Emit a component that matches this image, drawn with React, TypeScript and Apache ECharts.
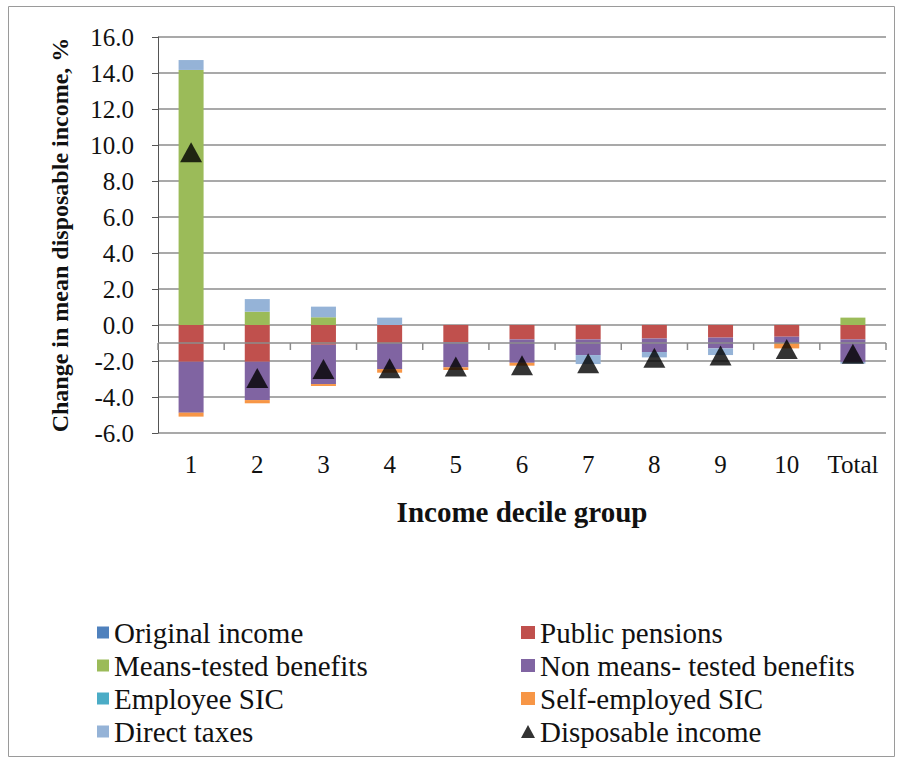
import React, { useEffect, useRef } from "react";
import * as echarts from "echarts";

const categories = ["1", "2", "3", "4", "5", "6", "7", "8", "9", "10", "Total"];

const originalIncome = [0, 0, 0, 0, 0, 0, 0, 0, 0, 0, 0];
const publicPensions = [-2.04, -2.04, -1.1, -1.0, -0.95, -0.8, -0.8, -0.75, -0.7, -0.65, -0.8];
const meansTested = [14.17, 0.74, 0.43, 0, 0, 0, 0, 0, 0, 0, 0.41];
const nonMeansTested = [-2.83, -2.13, -2.18, -1.45, -1.4, -1.3, -0.87, -0.75, -0.6, -0.35, -1.25];
const employeeSIC = [0, 0, 0, 0, 0, 0, 0, 0, 0, 0, 0];
const selfEmployedSIC = [-0.22, -0.18, -0.11, -0.2, -0.15, -0.16, 0, 0, 0, -0.3, 0];
const directTaxes = [0.55, 0.7, 0.59, 0.41, 0, 0, -0.5, -0.3, -0.37, 0, -0.1];
const disposableIncome = [9.6, -2.94, -2.45, -2.4, -2.3, -2.24, -2.13, -1.82, -1.7, -1.33, -1.6];

const yTicks = { min: -6, max: 16, interval: 2 };
const axisCross = -1;

const FONT = "Liberation Serif";

export default function App() {
  const ref = useRef<HTMLDivElement>(null);
  useEffect(() => {
    document.body.style.margin = "0";
    if (!ref.current) return;
    const chart = echarts.init(ref.current, undefined, { renderer: "svg" });
    const barSeries = [
      { name: "Original income", data: originalIncome, color: "#4F81BD" },
      { name: "Public pensions", data: publicPensions, color: "#C0504D" },
      { name: "Means-tested benefits", data: meansTested, color: "#9BBB59" },
      { name: "Non means- tested benefits", data: nonMeansTested, color: "#8064A2" },
      { name: "Employee SIC", data: employeeSIC, color: "#4BACC6" },
      { name: "Self-employed SIC", data: selfEmployedSIC, color: "#F79646" },
      { name: "Direct taxes", data: directTaxes, color: "#95B3D7" },
    ].map((s) => ({
      name: s.name,
      type: "bar",
      stack: "total",
      data: s.data,
      barWidth: 25,
      itemStyle: { color: s.color },
      emphasis: { disabled: true },
    }));

    const legendText = { fontFamily: FONT, fontSize: 29, color: "#111" };

    chart.setOption({
      animation: false,
      textStyle: { fontFamily: FONT },
      graphic: [
        {
          type: "rect",
          shape: { x: 8.5, y: 6.5, width: 886, height: 750 },
          style: { fill: "none", stroke: "#9a9a9a", lineWidth: 1 },
          silent: true,
        },
      ],
      grid: { left: 158, right: 16, top: 37, bottom: 327 },
      xAxis: {
        type: "category",
        data: categories,
        axisLine: { show: false },
        axisTick: { show: false },
        axisLabel: { fontFamily: FONT, fontSize: 25, color: "#111", margin: 19, interval: 0 },
        name: "Income decile group",
        nameLocation: "middle",
        nameGap: 64,
        nameTextStyle: { fontFamily: FONT, fontSize: 29, fontWeight: "bold", color: "#111" },
      },
      yAxis: {
        type: "value",
        min: yTicks.min,
        max: yTicks.max,
        interval: yTicks.interval,
        axisLine: { show: true, lineStyle: { color: "#555", width: 1 } },
        axisTick: { show: true, inside: false, length: 6, lineStyle: { color: "#555" } },
        axisLabel: {
          fontFamily: FONT,
          fontSize: 25,
          color: "#111",
          margin: 24,
          formatter: (v: number) => v.toFixed(1),
        },
        splitLine: { show: true, lineStyle: { color: "#8c8c8c", width: 1.5 } },
        name: "Change in mean disposable income, %",
        nameLocation: "middle",
        nameGap: 86,
        nameTextStyle: { fontFamily: FONT, fontSize: 24, fontWeight: "bold", color: "#111" },
      },
      legend: [
        {
          orient: "vertical",
          left: 92,
          top: 613,
          itemWidth: 12,
          itemHeight: 12,
          itemGap: 4,
          textStyle: legendText,
          data: [
            { name: "Original income", icon: "rect" },
            { name: "Means-tested benefits", icon: "rect" },
            { name: "Employee SIC", icon: "rect" },
            { name: "Direct taxes", icon: "rect" },
          ],
        },
        {
          orient: "vertical",
          left: 516,
          top: 613,
          itemWidth: 14,
          itemHeight: 13,
          itemGap: 4,
          textStyle: legendText,
          data: [
            { name: "Public pensions", icon: "rect" },
            { name: "Non means- tested benefits", icon: "rect" },
            { name: "Self-employed SIC", icon: "rect" },
            { name: "Disposable income", icon: "triangle" },
          ],
        },
      ],
      series: [
        ...barSeries,
        {
          name: "axisCross",
          type: "custom",
          silent: true,
          z: 5,
          data: categories.map((_, i) => [i, axisCross]),
          encode: { x: 0, y: 1 },
          renderItem: (params: any, api: any) => {
            const pt = api.coord([api.value(0), api.value(1)]);
            const bw = api.size([1, 0])[0];
            const cs = params.coordSys;
            const children: any[] = [];
            const tickStyle = { stroke: "#8c8c8c", lineWidth: 1.5 };
            const left = pt[0] - bw / 2;
            children.push({
              type: "line",
              shape: { x1: left, y1: pt[1], x2: left, y2: pt[1] + 7 },
              style: tickStyle,
            });
            if (params.dataIndex === categories.length - 1) {
              children.push({
                type: "line",
                shape: { x1: pt[0] + bw / 2, y1: pt[1], x2: pt[0] + bw / 2, y2: pt[1] + 7 },
                style: tickStyle,
              });
            }
            if (params.dataIndex === 0) {
              children.push({
                type: "line",
                shape: { x1: cs.x, y1: pt[1], x2: cs.x + cs.width, y2: pt[1] },
                style: tickStyle,
              });
            }
            return { type: "group", children };
          },
        },
        {
          name: "Disposable income",
          type: "scatter",
          data: disposableIncome,
          symbol: "triangle",
          symbolSize: [22, 20],
          itemStyle: { color: "#000" },
          z: 10,
          emphasis: { disabled: true },
        },
      ],
    });
    return () => chart.dispose();
  }, []);
  return <div ref={ref} style={{ width: 902, height: 760 }} />;
}
